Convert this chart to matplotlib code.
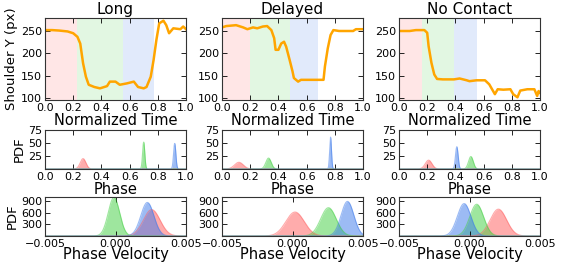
import numpy as np
import matplotlib
matplotlib.use("Agg")
import matplotlib.pyplot as plt

# ---- data ----
conditions = ["Long", "Delayed", "No Contact"]

# shoulder trajectories (normalized time, shoulder y in px)
long_t = [0.0, 0.05, 0.1, 0.16, 0.2, 0.23, 0.25, 0.27, 0.29, 0.31, 0.35, 0.39,
          0.44, 0.46, 0.5, 0.53, 0.58, 0.63, 0.66, 0.7, 0.72, 0.75, 0.77, 0.79,
          0.81, 0.84, 0.86, 0.88, 0.91, 0.96, 0.98, 1.0]
long_y = [252, 252, 251, 249, 245, 237, 222, 178, 148, 130, 125, 122,
          127, 137, 137, 130, 133, 137, 125, 122, 125, 148, 185, 230,
          267, 273, 263, 245, 256, 254, 260, 254]

delayed_t = [0.0, 0.03, 0.1, 0.15, 0.18, 0.22, 0.25, 0.29, 0.32, 0.35, 0.37,
             0.38, 0.40, 0.42, 0.44, 0.455, 0.48, 0.50, 0.51, 0.54, 0.56, 0.64,
             0.72, 0.73, 0.75, 0.77, 0.79, 0.83, 0.93, 0.95, 1.0]
delayed_y = [258, 261, 263, 258, 254, 258, 256, 260, 261, 252, 234,
             208, 208, 222, 226, 215, 185, 160, 145, 137, 141, 141,
             141, 171, 211, 241, 252, 250, 250, 254, 254]

nocontact_t = [0.0, 0.076, 0.12, 0.18, 0.2, 0.21, 0.23, 0.25, 0.27, 0.31, 0.39,
               0.43, 0.48, 0.5, 0.55, 0.61, 0.64, 0.66, 0.68, 0.7, 0.74, 0.79,
               0.81, 0.84, 0.86, 0.91, 0.96, 0.98, 0.99, 1.0]
nocontact_y = [250, 250, 252, 252, 246, 216, 179, 153, 143, 142, 142,
               144, 140, 138, 140, 140, 131, 120, 109, 120, 119, 120,
               109, 102, 117, 120, 120, 105, 116, 112]

traj_t = [long_t, delayed_t, nocontact_t]
traj_y = [long_y, delayed_y, nocontact_y]

# phase boundaries (red, green, blue segments)
phase_edges = [[0.0, 0.224, 0.55, 0.776],
               [0.0, 0.20, 0.48, 0.68],
               [0.0, 0.16, 0.39, 0.55]]

# phase distributions: mean, std per segment (red, green, blue)
phase_mean = [[0.27, 0.70, 0.92], [0.12, 0.33, 0.77], [0.21, 0.51, 0.41]]
phase_std = [[0.020, 0.0077, 0.0081], [0.031, 0.019, 0.0065], [0.0235, 0.0166, 0.0093]]

# phase velocity distributions: mean, std per segment (red, green, blue)
vel_mean = [[0.00257, -0.00011, 0.00226], [0.00018, 0.00255, 0.0039], [0.00205, 0.00051, -0.00038]]
vel_std = [[0.00059, 0.000403, 0.000464], [0.00065, 0.00055, 0.00045], [0.00058, 0.00049, 0.00048]]

vel_ticks = [-0.005, 0.0, 0.005]
vel_ticklabels = ["\u22120.005", "0.000", "0.005"]

seg_colors = ["#ff5a5a", "#3fcf3f", "#3a78ea"]


def gauss(x, m, s):
    return np.exp(-0.5 * ((x - m) / s) ** 2) / (s * np.sqrt(2 * np.pi))


def style_ax(ax):
    ax.tick_params(direction="in", top=True, right=True, labelsize=8,
                   length=3.5, width=0.6, pad=2)
    for sp in ax.spines.values():
        sp.set_linewidth(0.8)
        sp.set_color("#333333")


def main():
    W, H = 568, 266
    fig = plt.figure(figsize=(W / 100, H / 100), dpi=100)
    col_left = [45, 222, 399]
    col_w = 141
    rows = [(18, 100), (130, 169), (197, 236)]

    def rect(c, r):
        top, bot = rows[r]
        return [col_left[c] / W, 1 - bot / H, col_w / W, (bot - top) / H]

    xp = np.linspace(0, 1, 600)
    xv = np.linspace(-0.005, 0.005, 600)

    for c in range(3):
        # top: trajectory with phase spans
        ax = fig.add_axes(rect(c, 0))
        e = phase_edges[c]
        for k in range(3):
            ax.axvspan(e[k], e[k + 1], color=seg_colors[k], alpha=0.15, lw=0)
        ax.plot(traj_t[c], traj_y[c], color="#ffa500", lw=1.8)
        ax.set_xlim(0, 1)
        ax.set_ylim(96, 279)
        ax.set_yticks([100, 150, 200, 250])
        ax.set_xticks(np.arange(0, 1.01, 0.2))
        ax.set_title(conditions[c], fontsize=11, pad=3)
        ax.set_xlabel("Normalized Time", fontsize=10.5, labelpad=0)
        if c == 0:
            ax.set_ylabel("Shoulder Y (px)", fontsize=9.5, labelpad=2)
        style_ax(ax)

        # middle: phase pdfs
        ax = fig.add_axes(rect(c, 1))
        for k in range(3):
            y = gauss(xp, phase_mean[c][k], phase_std[c][k])
            ax.fill_between(xp, 0, y, color=seg_colors[k], alpha=0.5, lw=0)
            ax.plot(xp, y, color=seg_colors[k], alpha=0.5, lw=0.8)
        ax.set_xlim(0, 1)
        ax.set_ylim(0, 75)
        ax.set_yticks([25, 50, 75])
        ax.set_xticks(np.arange(0, 1.01, 0.2))
        ax.set_xlabel("Phase", fontsize=10.5, labelpad=0)
        if c == 0:
            ax.set_ylabel("PDF", fontsize=9.5, labelpad=2)
        style_ax(ax)

        # bottom: phase velocity pdfs
        ax = fig.add_axes(rect(c, 2))
        for k in range(3):
            y = gauss(xv, vel_mean[c][k], vel_std[c][k])
            ax.fill_between(xv, 0, y, color=seg_colors[k], alpha=0.5, lw=0)
            ax.plot(xv, y, color=seg_colors[k], alpha=0.5, lw=0.8)
        ax.set_xlim(-0.005, 0.005)
        ax.set_ylim(0, 1000)
        ax.set_yticks([300, 600, 900])
        ax.set_xticks(vel_ticks)
        ax.set_xticklabels(vel_ticklabels)
        ax.set_xlabel("Phase Velocity", fontsize=10.5, labelpad=-1)
        if c == 0:
            ax.set_ylabel("PDF", fontsize=9.5, labelpad=2)
        style_ax(ax)

    fig.savefig("out.png", dpi=100)
    plt.close(fig)


if __name__ == "__main__":
    main()
